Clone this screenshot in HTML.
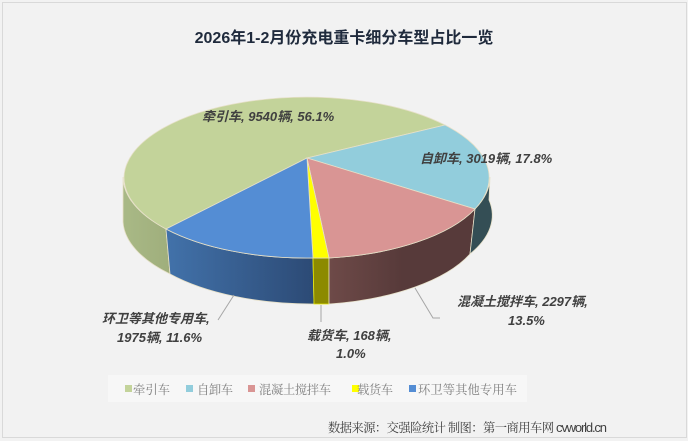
<!DOCTYPE html>
<html><head><meta charset="utf-8"><style>
body{margin:0;width:688px;height:441px;background:#f2f2f2;overflow:hidden}
svg{display:block}
.l{font-family:"Liberation Sans","Noto Sans CJK SC",sans-serif;font-style:italic;font-weight:bold;font-size:13px;fill:#404040}
.lg{font-family:"Liberation Serif","Noto Serif CJK SC",serif;font-size:12.3px;fill:#7f7f7f}
</style></head><body>
<svg width="688" height="441" viewBox="0 0 688 441">
<defs>
<linearGradient id="gb" x1="0" x2="1"><stop offset="0" stop-color="#4272aa"/><stop offset="1" stop-color="#2c4a75"/></linearGradient>
<linearGradient id="gr" x1="0" x2="1"><stop offset="0" stop-color="#6e4a48"/><stop offset="0.5" stop-color="#573a3a"/><stop offset="1" stop-color="#573a3a"/></linearGradient>
<linearGradient id="gg" x1="0" x2="1"><stop offset="0" stop-color="#a9b986"/><stop offset="1" stop-color="#9fae7c"/></linearGradient>
</defs>
<rect x="2.5" y="2.5" width="684" height="435" fill="#f2f2f2" stroke="#d9d9d9"/>
<text x="344" y="43" text-anchor="middle" font-family="Liberation Sans,'Noto Sans CJK SC',sans-serif" font-size="16" font-weight="bold" fill="#1f2a3c">2026年1-2月份充电重卡细分车型占比一览</text>
<g stroke="#e6e0c8" stroke-width="0.8">
<path d="M123,177 A183,81 0 0 0 166,229 L170,274 A183,81 0 0 1 123,222 Z" fill="url(#gg)"/>
<path d="M166,229 A183,81 0 0 0 313,258 L314,304 A183,81 0 0 1 170,274 Z" fill="url(#gb)"/>
<path d="M313,258 A183,81 0 0 0 329,258 L329,304 L314,304 Z" fill="#8c8a00" stroke="#e8e800"/>
<path d="M329,258 A183,81 0 0 0 475,209 L470,254 A183,81 0 0 1 329,304 Z" fill="url(#gr)"/>
<path d="M475,209 A183,81 0 0 0 490,177 L489,200 A183,81 0 0 1 470,254 Z" fill="#344e55"/>
<path d="M307,158 L166,229 A183,81 0 0 1 124,177 A183,81 0 0 1 445,125 Z" fill="#c3d39a"/>
<path d="M307,158 L445,125 A183,81 0 0 1 475,209 Z" fill="#92cddc"/>
<path d="M307,158 L475,209 A183,81 0 0 1 329,258 Z" fill="#d99594"/>
<path d="M307,158 L329,258 A183,81 0 0 1 313,258 Z" fill="#ffff00"/>
<path d="M307,158 L313,258 A183,81 0 0 1 166,229 Z" fill="#548dd4"/>
</g>
<g stroke="#a6a6a6" fill="none" stroke-width="1">
<path d="M234,295 L218,320"/>
<path d="M321,305 L321,322"/>
<path d="M415,288 L433,318 L440,318"/>
</g>
<text class="l" x="202" y="121">牵引车, 9540辆, 56.1%</text>
<text class="l" x="420" y="163">自卸车, 3019辆, 17.8%</text>
<text class="l" x="457" y="306">混凝土搅拌车, 2297辆,</text>
<text class="l" x="508" y="325">13.5%</text>
<text class="l" x="102" y="323">环卫等其他专用车,</text>
<text class="l" x="117" y="342">1975辆, 11.6%</text>
<text class="l" x="307" y="340">载货车, 168辆,</text>
<text class="l" x="336" y="358">1.0%</text>
<rect x="108" y="375" width="419" height="27" fill="#f7f7f7"/>
<rect x="125" y="385" width="7" height="7" fill="#c3d39a"/><text class="lg" x="133" y="394" textLength="37">牵引车</text>
<rect x="186" y="385" width="7" height="7" fill="#92cddc"/><text class="lg" x="197" y="394" textLength="36">自卸车</text>
<rect x="248" y="385" width="7" height="7" fill="#d99594"/><text class="lg" x="259" y="394" textLength="72">混凝土搅拌车</text>
<rect x="352" y="385" width="7" height="7" fill="#ffff00"/><text class="lg" x="357" y="394" textLength="36">载货车</text>
<rect x="409" y="385" width="7" height="7" fill="#548dd4"/><text class="lg" x="418" y="394" textLength="99">环卫等其他专用车</text>
<text x="328" y="432" textLength="226" font-family="Liberation Serif,'Noto Serif CJK SC',serif" font-size="12.3" fill="#404040">数据来源：交强险统计 制图：第一商用车网</text>
<text x="556" y="432" textLength="51" font-family="Liberation Sans,sans-serif" font-size="13" fill="#404040">cvworld.cn</text>
</svg>
</body></html>
